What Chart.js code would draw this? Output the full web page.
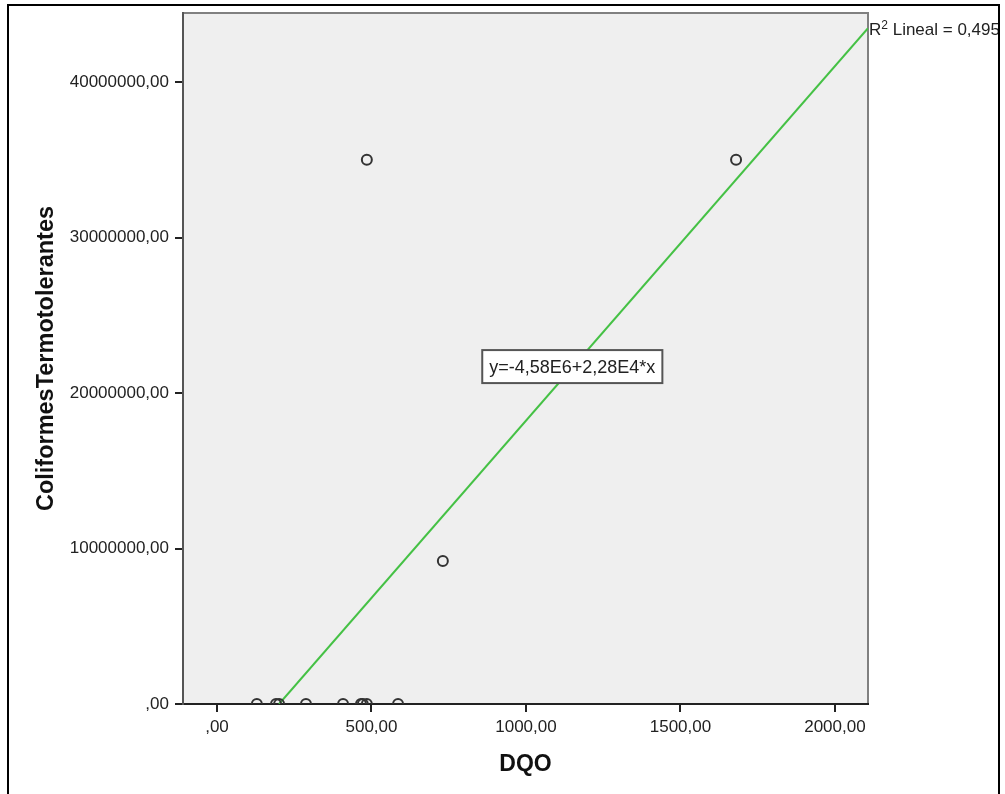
<!DOCTYPE html>
<html>
<head>
<meta charset="utf-8">
<script src="https://cdn.jsdelivr.net/npm/chart.js@4/dist/chart.umd.min.js"></script>
<style>
    body { margin: 0; background: #fff; }
    #wrap { position: relative; width: 1005px; height: 794px; }
    #frame { position: absolute; left: 7px; top: 4px; width: 993px; height: 800px; border: 2px solid #000; box-sizing: border-box; }
    canvas { position: absolute; left: 0; top: 0; }
</style>
</head>
<body>
<div id="wrap">
    <canvas id="chart" width="1005" height="794"></canvas>
    <div id="frame"></div>
</div>
<script>
// Data
const dqo = [129, 191, 201, 288, 408, 466, 472, 485, 586, 485, 1680, 731];
const coliformes = [0, 0, 0, 0, 0, 0, 0, 0, 0, 35000000, 35000000, 9200000];
const fitX = [201, 2107];
const fitY = [0, 43460000];
const xTicks = [0, 500, 1000, 1500, 2000];
const yTicks = [0, 10000000, 20000000, 30000000, 40000000];
const equationText = 'y=-4,58E6+2,28E4*x';
const r2Text = ' Lineal = 0,495';

const FONT = '"Liberation Sans", Arial, sans-serif';

function fmt(v) {
    const s = v.toFixed(2).replace('.', ',');
    return s.startsWith('0,') ? s.substring(1) : s;
}

const plotFrame = {
    id: 'plotFrame',
    beforeDraw(chart) {
        const { ctx, chartArea: a } = chart;
        ctx.save();
        ctx.fillStyle = '#efefef';
        ctx.fillRect(a.left, a.top, a.right - a.left, a.bottom - a.top);
        ctx.strokeStyle = '#808080';
        ctx.lineWidth = 2;
        ctx.beginPath();
        ctx.moveTo(a.left, a.top);
        ctx.lineTo(a.right, a.top);
        ctx.lineTo(a.right, a.bottom);
        ctx.stroke();
        ctx.restore();
    },
    afterDraw(chart) {
        const { ctx, chartArea: a, scales } = chart;
        ctx.save();
        // equation box
        ctx.font = '18px ' + FONT;
        const w = ctx.measureText(equationText).width + 14;
        const h = 33;
        const cx = scales.x.getPixelForValue(1150);
        const cy = scales.y.getPixelForValue(21700000);
        ctx.fillStyle = '#fff';
        ctx.fillRect(cx - w / 2, cy - h / 2, w, h);
        ctx.strokeStyle = '#555';
        ctx.lineWidth = 2;
        ctx.strokeRect(cx - w / 2, cy - h / 2, w, h);
        ctx.fillStyle = '#222';
        ctx.textBaseline = 'middle';
        ctx.textAlign = 'center';
        ctx.fillText(equationText, cx, cy + 1);
        // R2 label
        ctx.font = '17px ' + FONT;
        ctx.textAlign = 'left';
        ctx.textBaseline = 'alphabetic';
        const ry = scales.y.getPixelForValue(fitY[1]) + 7;
        ctx.fillText('R', a.right + 1, ry);
        const rw = ctx.measureText('R').width;
        ctx.font = '12px ' + FONT;
        ctx.fillText('2', a.right + 1 + rw, ry - 6);
        const sw = ctx.measureText('2').width;
        ctx.font = '17px ' + FONT;
        ctx.fillText(r2Text, a.right + 1 + rw + sw, ry);
        ctx.restore();
    }
};

new Chart(document.getElementById('chart').getContext('2d'), {
    type: 'scatter',
    data: {
        datasets: [{
            label: 'Fit',
            type: 'line',
            data: fitX.map((x, i) => ({ x: x, y: fitY[i] })),
            borderColor: '#45c145',
            borderWidth: 2,
            pointRadius: 0,
            fill: false,
            order: 1
        }, {
            label: 'Datos',
            data: dqo.map((x, i) => ({ x: x, y: coliformes[i] })),
            pointRadius: 5,
            pointBorderWidth: 2,
            pointBorderColor: '#333',
            pointBackgroundColor: 'rgba(0,0,0,0)',
            clip: 0,
            order: 0
        }]
    },
    options: {
        responsive: false,
        animation: false,
        layout: { padding: { left: 0, top: 13, right: 137, bottom: 0 } },
        plugins: { legend: { display: false }, tooltip: { enabled: false } },
        scales: {
            x: {
                type: 'linear',
                min: -110,
                max: 2107,
                afterBuildTicks: s => { s.ticks = xTicks.map(v => ({ value: v })); },
                afterFit: s => { s.height = 90; s.paddingLeft = 0; s.paddingRight = 0; },
                ticks: {
                    color: '#222',
                    font: { family: FONT, size: 17 },
                    padding: 5,
                    maxRotation: 0,
                    callback: v => fmt(v)
                },
                grid: { display: true, drawOnChartArea: false, drawTicks: true, tickLength: 8, color: '#222', lineWidth: 2 },
                border: { display: true, color: '#222', width: 2 },
                title: {
                    display: true,
                    text: 'DQO',
                    color: '#111',
                    font: { family: FONT, size: 23, weight: 'bold' },
                    padding: { top: 0, bottom: 16 }
                }
            },
            y: {
                type: 'linear',
                min: 0,
                max: 44440000,
                afterBuildTicks: s => { s.ticks = yTicks.map(v => ({ value: v })); },
                afterFit: s => { s.width = 183; s.paddingTop = 0; s.paddingBottom = 0; },
                ticks: {
                    color: '#222',
                    font: { family: FONT, size: 17 },
                    padding: 6,
                    callback: v => fmt(v)
                },
                grid: { display: true, drawOnChartArea: false, drawTicks: true, tickLength: 8, color: '#222', lineWidth: 2 },
                border: { display: true, color: '#555', width: 2 },
                title: {
                    display: true,
                    text: 'ColiformesTermotolerantes',
                    color: '#111',
                    font: { family: FONT, size: 23.5, weight: 'bold' },
                    padding: { top: 32, bottom: 0 }
                }
            }
        }
    },
    plugins: [plotFrame]
});
</script>
</body>
</html>
